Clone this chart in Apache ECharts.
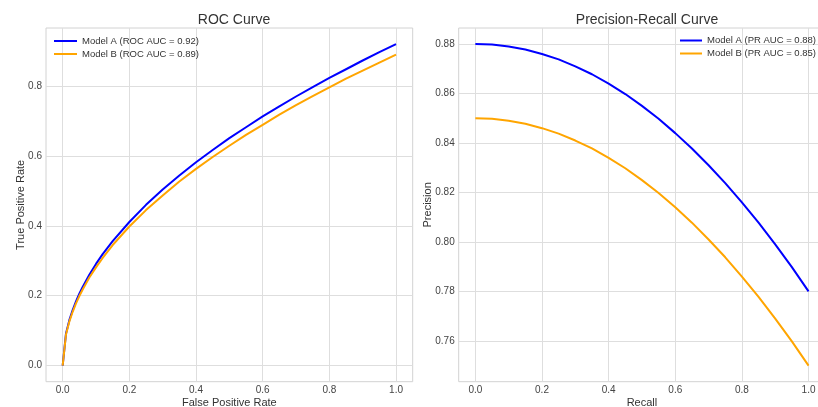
<!DOCTYPE html>
<html>
<head>
<meta charset="utf-8">
<script src="https://cdn.jsdelivr.net/npm/echarts@6/dist/echarts.min.js"></script>
<style>
  html, body { margin: 0; padding: 0; background: #fff; }
  #chart { width: 818px; height: 407px; }
</style>
</head>
<body>
<div id="chart"></div>
<script>
  // ROC curve points
  var rocFpr = [0, 0.01, 0.02, 0.03, 0.04, 0.05, 0.06, 0.08, 0.1, 0.12, 0.15, 0.2, 0.25, 0.3, 0.35, 0.4, 0.45, 0.5,
    0.55, 0.6, 0.65, 0.7, 0.75, 0.8, 0.85, 0.9, 0.95, 1.0]
  var rocTprA = [0, 0.092, 0.130, 0.159, 0.184, 0.206, 0.225, 0.260, 0.291, 0.319, 0.356, 0.411, 0.460, 0.504, 0.544,
    0.582, 0.617, 0.651, 0.682, 0.713, 0.742, 0.770, 0.797, 0.823, 0.848, 0.873, 0.897, 0.920]
  var rocTprB = [0, 0.089, 0.126, 0.154, 0.178, 0.199, 0.218, 0.252, 0.281, 0.308, 0.345, 0.398, 0.445, 0.487, 0.527,
    0.563, 0.597, 0.629, 0.660, 0.689, 0.718, 0.745, 0.771, 0.796, 0.821, 0.844, 0.867, 0.890]

  // precision-recall points
  var prRecall = [0, 0.05, 0.1, 0.15, 0.2, 0.25, 0.3, 0.35, 0.4, 0.45, 0.5, 0.55, 0.6, 0.65, 0.7, 0.75, 0.8, 0.85, 0.9, 0.95, 1.0]
  var prPrecA = [0.880, 0.8798, 0.879, 0.8778, 0.876, 0.8738, 0.871, 0.8678, 0.864, 0.8598, 0.855, 0.8498, 0.844,
    0.8378, 0.831, 0.8238, 0.816, 0.8078, 0.799, 0.7898, 0.780]
  var prPrecB = [0.850, 0.8498, 0.849, 0.8478, 0.846, 0.8438, 0.841, 0.8378, 0.834, 0.8298, 0.825, 0.8198, 0.814,
    0.8078, 0.801, 0.7938, 0.786, 0.7778, 0.769, 0.7598, 0.750]

  var legendNames = ['Model A (ROC AUC = 0.92)', 'Model B (ROC AUC = 0.89)', 'Model A (PR AUC = 0.88)', 'Model B (PR AUC = 0.85)']

  // tick labels
  var unitTicks = [0, 0.2, 0.4, 0.6, 0.8, 1.0]
  var rocYTicks = [0, 0.2, 0.4, 0.6, 0.8]
  var prYTicks = [0.76, 0.78, 0.80, 0.82, 0.84, 0.86, 0.88]

  function pairs(xs, ys) {
    var out = []
    for (var i = 0; i < xs.length; i++) out.push([xs[i], ys[i]])
    return out
  }

  var font = 'Liberation Sans, Arial, sans-serif'
  var gridColor = '#dedede'

  function valueAxis(idx, min, max, ticks, digits, name, isY, gap) {
    return {
      type: 'value',
      gridIndex: idx,
      min: min,
      max: max,
      name: name,
      nameLocation: 'middle',
      nameGap: gap,
      nameMoveOverlap: false,
      nameRotate: isY ? 90 : 0,
      nameTextStyle: { color: '#333', fontSize: 11, fontFamily: font },
      axisLine: { show: false },
      axisTick: { show: false, customValues: ticks },
      axisLabel: {
        customValues: ticks,
        color: '#444',
        fontSize: 10,
        fontFamily: font,
        margin: 4,
        formatter: function (v) { return v.toFixed(digits) }
      },
      splitLine: { show: true, lineStyle: { color: gridColor, width: 1 } }
    }
  }

  var chart = echarts.init(document.getElementById('chart'))
  chart.setOption({
    backgroundColor: '#fff',
    animation: false,
    title: [
      { text: 'ROC Curve', left: 229, top: 8, textAlign: 'center',
        textStyle: { fontSize: 14, fontWeight: 'normal', color: '#333', fontFamily: font } },
      { text: 'Precision-Recall Curve', left: 642, top: 8, textAlign: 'center',
        textStyle: { fontSize: 14, fontWeight: 'normal', color: '#333', fontFamily: font } }
    ],
    legend: [
      { data: [legendNames[0], legendNames[1]], orient: 'vertical', left: 54, top: 35, padding: 0,
        icon: 'rect', itemWidth: 23, itemHeight: 2, itemGap: 1,
        textStyle: { fontSize: 9.5, color: '#333', fontFamily: font, lineHeight: 12 } },
      { data: [legendNames[2], legendNames[3]], orient: 'vertical', left: 680, top: 34.5, padding: 0,
        icon: 'rect', itemWidth: 22, itemHeight: 2, itemGap: 1,
        textStyle: { fontSize: 9.5, color: '#333', fontFamily: font, lineHeight: 12 } }
    ],
    grid: [
      { left: 46, top: 28, width: 366.7, height: 353.7, show: true, borderColor: '#d2d2d2', borderWidth: 1,
        backgroundColor: '#fff', containLabel: false, outerBoundsMode: 'none' },
      { left: 458.7, top: 28, width: 366.5, height: 353.7, show: true, borderColor: '#d2d2d2', borderWidth: 1,
        backgroundColor: '#fff', containLabel: false, outerBoundsMode: 'none' }
    ],
    xAxis: [
      valueAxis(0, -0.05, 1.05, unitTicks, 1, 'False Positive Rate', false, 16),
      valueAxis(1, -0.05, 1.05, unitTicks, 1, 'Recall', false, 16)
    ],
    yAxis: [
      valueAxis(0, -0.046, 0.966, rocYTicks, 1, 'True Positive Rate', true, 20),
      valueAxis(1, 0.7435, 0.8865, prYTicks, 2, 'Precision', true, 25)
    ],
    series: [
      { name: legendNames[0], type: 'line', xAxisIndex: 0, yAxisIndex: 0, data: pairs(rocFpr, rocTprA),
        showSymbol: false, smooth: false, color: '#0000ff', lineStyle: { width: 2 } },
      { name: legendNames[1], type: 'line', xAxisIndex: 0, yAxisIndex: 0, data: pairs(rocFpr, rocTprB),
        showSymbol: false, smooth: false, color: '#ffa500', lineStyle: { width: 2 } },
      { name: legendNames[2], type: 'line', xAxisIndex: 1, yAxisIndex: 1, data: pairs(prRecall, prPrecA),
        showSymbol: false, smooth: false, color: '#0000ff', lineStyle: { width: 2 } },
      { name: legendNames[3], type: 'line', xAxisIndex: 1, yAxisIndex: 1, data: pairs(prRecall, prPrecB),
        showSymbol: false, smooth: false, color: '#ffa500', lineStyle: { width: 2 } }
    ]
  })
</script>
</body>
</html>
